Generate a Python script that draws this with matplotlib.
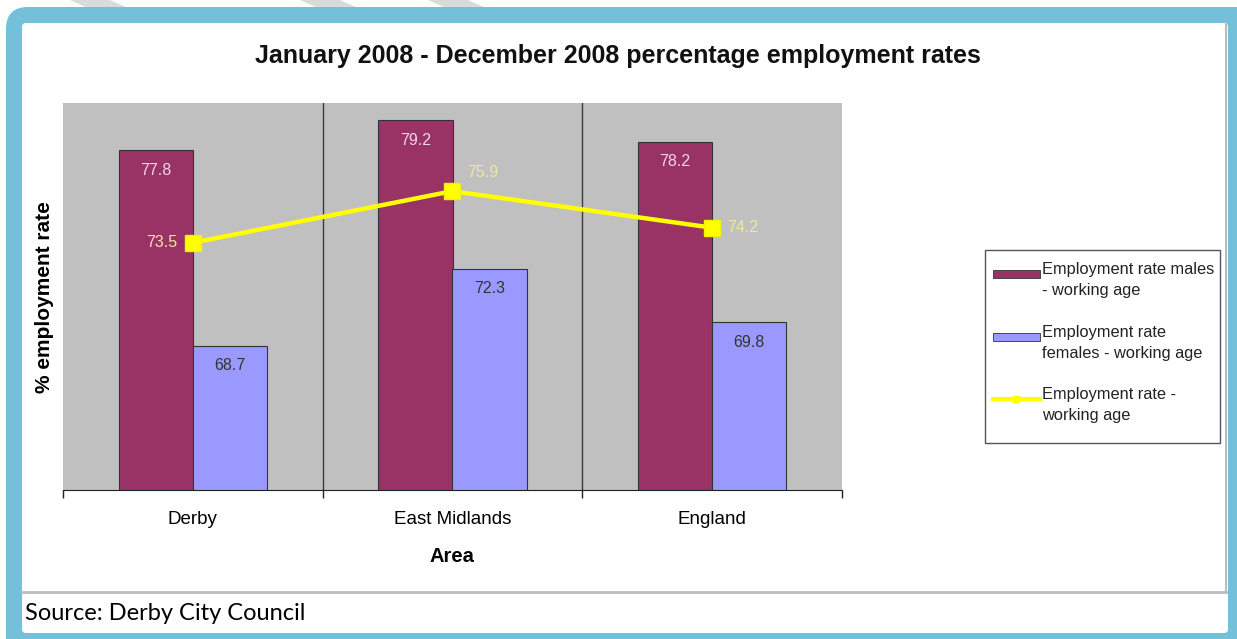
import matplotlib
matplotlib.use("Agg")
import matplotlib.pyplot as plt
from matplotlib.patches import FancyBboxPatch, Rectangle, Polygon
import numpy as np

# --- Datos ---
areas = ["Derby", "East Midlands", "England"]
males = [77.8, 79.2, 78.2]
females = [68.7, 72.3, 69.8]
overall = [73.5, 75.9, 74.2]

legend_labels = ["Employment rate males\n- working age",
                 "Employment rate\nfemales - working age",
                 "Employment rate -\nworking age"]

c_male = "#993366"
c_female = "#9999FF"
c_line = "#FFFF00"
W, H = 1237, 639

fig = plt.figure(figsize=(W / 100, H / 100), dpi=100)

# capa de fondo en pixeles (marco azul, leyenda, fuente)
bg = fig.add_axes([0, 0, 1, 1])
bg.set_xlim(0, W)
bg.set_ylim(H, 0)
bg.axis("off")

for x0 in [70, 300, 428]:
    bg.add_patch(Polygon([[x0, 0], [x0 + 40, 0], [x0 + 60, 9], [x0 + 20, 9]],
                         closed=True, color="#DADADA", lw=0))

bg.add_patch(FancyBboxPatch((6, 7), W + 20, H + 20,
                            boxstyle="round,pad=0,rounding_size=22",
                            fc="#74C0DA", ec="none"))
bg.add_patch(FancyBboxPatch((22, 23), 1206, 610,
                            boxstyle="round,pad=0,rounding_size=4",
                            fc="white", ec="none"))
bg.plot([22, 1226], [592, 592], color="#BDBDBD", lw=2)
bg.plot([1226, 1226], [23, 592], color="#BDBDBD", lw=1.5)

bg.text(25, 614, "Source: Derby City Council", fontsize=17, family="Lato",
        va="center", ha="left", color="black")

bg.text(618, 56, "January 2008 - December 2008 percentage employment rates",
        fontsize=18, fontweight="bold", family="Liberation Sans",
        ha="center", va="center", color="#111111")
bg.text(45, 297, "% employment rate", fontsize=15, fontweight="bold",
        family="Liberation Sans", rotation=90, ha="center", va="center")
bg.text(452, 557, "Area", fontsize=14.5, fontweight="bold",
        family="Liberation Sans", ha="center", va="center")

# leyenda dibujada a mano
bg.add_patch(Rectangle((985, 250), 235, 193, fc="white", ec="#555555", lw=1))
handle_y = [274, 337, 399]
bg.add_patch(Rectangle((993, handle_y[0] - 4), 47, 8, fc=c_male, ec="#333333", lw=0.6))
bg.add_patch(Rectangle((993, handle_y[1] - 4), 47, 8, fc=c_female, ec="#333333", lw=0.6))
bg.plot([993, 1040], [handle_y[2], handle_y[2]], color=c_line, lw=3)
bg.plot([1016], [handle_y[2]], marker="s", color=c_line, markersize=5)
for y, lab in zip(handle_y, legend_labels):
    bg.text(1042, y - 12, lab, fontsize=11.8, family="Liberation Sans",
            ha="left", va="top", color="#222222", linespacing=1.5)

# --- Grafico principal ---
ax = fig.add_axes([63 / W, 1 - 490 / H, (842 - 63) / W, (490 - 103) / H])
ax.set_facecolor("#C0C0C0")
x = np.arange(len(areas))
bw = 0.285

ax.bar(x - bw / 2, males, bw, color=c_male, edgecolor="#333333", lw=0.8, zorder=2)
ax.bar(x + bw / 2, females, bw, color=c_female, edgecolor="#333333", lw=0.8, zorder=2)
ax.plot(x, overall, color=c_line, lw=3.2, marker="s", markersize=11,
        markeredgecolor="#F2F200", zorder=3)

for xi, v in zip(x - bw / 2, males):
    ax.annotate(f"{v}", (xi, v), xytext=(0, -20), textcoords="offset pixels",
                ha="center", va="center", fontsize=11.5, color="#F6D4E6",
                family="Liberation Sans")
for xi, v in zip(x + bw / 2, females):
    ax.annotate(f"{v}", (xi, v), xytext=(0, -20), textcoords="offset pixels",
                ha="center", va="center", fontsize=11.5, color="#333333",
                family="Liberation Sans")

offsets = [(-16, 0, "right"), (15, 19, "left"), (15, 0, "left")]
for xi, v, (dx, dy, ha) in zip(x, overall, offsets):
    ax.annotate(f"{v}", (xi, v), xytext=(dx, dy), textcoords="offset pixels",
                ha=ha, va="center", fontsize=11.5, color="#EDE9A0",
                family="Liberation Sans", zorder=4)

for sep in [0.5, 1.5]:
    ax.axvline(sep, color="#3A3A3A", lw=1, zorder=1)

ax.set_xlim(-0.5, 2.5)
ax.set_ylim(62, 80)
ax.set_yticks([])
ax.set_xticks(x)
ax.set_xticklabels(areas, fontsize=13.5, family="Liberation Sans")
ax.tick_params(axis="x", which="major", length=0, pad=15)
ax.set_xticks([-0.5, 0.5, 1.5, 2.5], minor=True)
ax.tick_params(axis="x", which="minor", length=6, width=1, color="#222222")
for s in ["top", "right", "left"]:
    ax.spines[s].set_visible(False)
ax.spines["bottom"].set_color("#222222")

fig.savefig("out.png", dpi=100)
